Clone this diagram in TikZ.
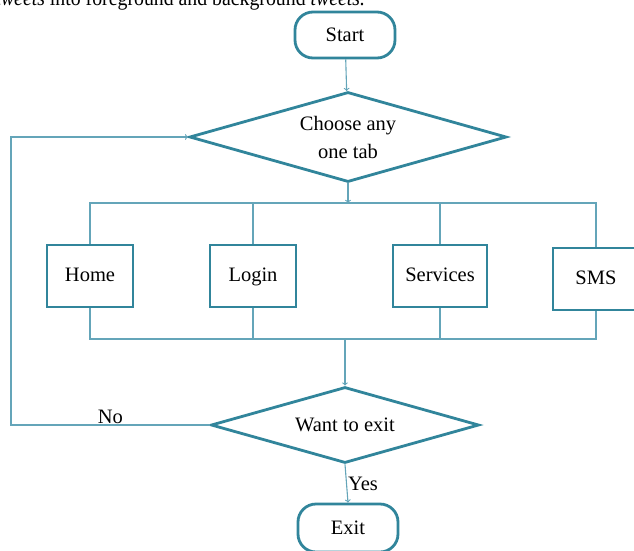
\documentclass[tikz,border=0pt]{standalone}
\usepackage{fontspec}
\setmainfont{Liberation Serif}
\usetikzlibrary{shapes.geometric}
\definecolor{boxline}{RGB}{49,133,155}
\definecolor{flowline}{RGB}{100,165,185}
\tikzset{
  base/.style={draw=boxline, line width=2.8pt, fill=white, font=\fontsize{20.5}{28}\selectfont},
  term/.style={base, rounded corners=18pt, minimum width=100pt, minimum height=46pt},
  tab/.style={base, rectangle, minimum height=62pt, text height=14pt, text depth=4pt},
  choice/.style={base, diamond, aspect=3.5, inner sep=0pt, align=center},
  link/.style={draw=flowline, line width=1.1pt},
  arr/.style={link, ->},
  lbl/.style={font=\fontsize{20.5}{24}\selectfont}
}
\begin{document}
\begin{tikzpicture}[x=1pt, y=-1pt]
  \useasboundingbox (0,0) rectangle (634,550);
  \clip (0,0) rectangle (634,550);
  \node[font=\fontsize{22}{26}\selectfont, anchor=base west] (caption) at (-8,5) {\scalebox{0.9}[1]{\textit{tweets} into foreground and background \textit{tweets.}}};
  \node[term] (start) at (345,35) {Start};
  \node[choice, minimum width=317pt, minimum height=90pt] (choose) at (348,137) {Choose any\\one tab};
  \node[tab, minimum width=86pt] (home) at (90,276) {Home};
  \node[tab, minimum width=86pt] (login) at (253,276) {Login};
  \node[tab, minimum width=94pt] (services) at (440,276) {Services};
  \node[tab, minimum width=86pt] (sms) at (596,279) {SMS};
  \node[choice, minimum width=268pt, minimum height=76pt] (want) at (345,425) {Want to exit};
  \node[term, minimum height=48pt] (exit) at (348,528) {Exit};
  \coordinate (topbus) at (348,203);
  \coordinate (botbus) at (345,339);
  \coordinate (back) at (11,425);
  % connectors
  \draw[arr] (start) -- (choose);
  \draw[arr] (choose) -- (topbus);
  \draw[link] (home.north) |- (sms.north |- topbus) -- (sms.north);
  \draw[link] (login.north) -- (login.north |- topbus);
  \draw[link] (services.north) -- (services.north |- topbus);
  \draw[link] (home.south) |- (sms.south |- botbus) -- (sms.south);
  \draw[link] (login.south) -- (login.south |- botbus);
  \draw[link] (services.south) -- (services.south |- botbus);
  \draw[arr] (botbus) -- (want.north);
  \draw[arr] (want.west) -- node[lbl, above, inner sep=1pt] {No} (want.west -| back) |- (choose.west);
  \draw[arr] (want.south) -- node[lbl, right, inner sep=1pt] {Yes} (exit.north);
\end{tikzpicture}
\end{document}
